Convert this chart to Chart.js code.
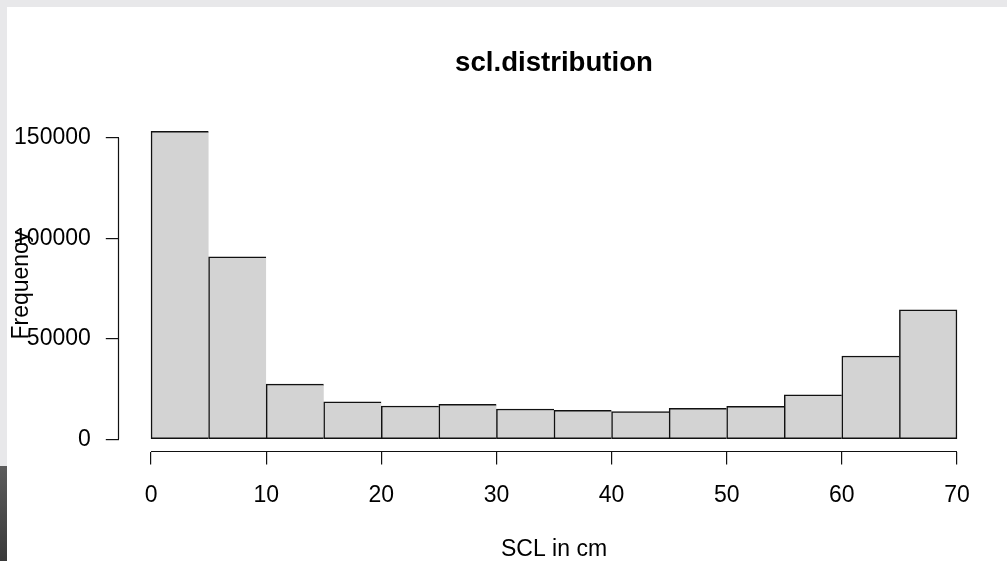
<!DOCTYPE html>
<html>
<head>
<meta charset="utf-8">
<title>scl.distribution</title>
<script src="https://cdn.jsdelivr.net/npm/chart.js@4/dist/chart.umd.min.js"></script>
<style>
    html, body { margin: 0; padding: 0; overflow: hidden; }
    body { width: 1007px; height: 561px; background: #e8e8ea; position: relative; }
    #edge { position: absolute; left: 0; top: 466px; width: 7px; height: 95px; background: linear-gradient(#5c5c5c, #3a3a3a); }
    #plot { position: absolute; left: 7px; top: 7px; width: 1000px; height: 554px; background: #ffffff; }
</style>
</head>
<body>
<div id="edge"></div>
<div id="plot"><canvas id="hist-chart" width="1000" height="554"></canvas></div>
<script>
// histogram bins (cm) and counts
const breaks = [0, 5, 10, 15, 20, 25, 30, 35, 40, 45, 50, 55, 60, 65, 70];
const counts = [153200, 90700, 27400, 18600, 16500, 17300, 15000, 14400, 13700, 15300, 16400, 22100, 41400, 64300];

// tick labels
const xTicks = [0, 10, 20, 30, 40, 50, 60, 70];
const yTicks = [0, 50000, 100000, 150000];

Chart.defaults.font.family = "'Liberation Sans', Arial, Helvetica, sans-serif";
Chart.defaults.color = '#000';

// R style plot region: data range plus 4% each side
const xRange = breaks[breaks.length - 1] - breaks[0];
const yTop = Math.max(...counts);

const lastBar = counts.length - 1;

// axis lines only from the first to the last tick, like R's axis()
const axisLines = {
    id: 'axisLines',
    afterDraw(chart) {
        const ctx = chart.ctx;
        const area = chart.chartArea;
        const align = p => Math.round(p - 0.5) + 0.5;
        const xs = chart.scales.x;
        const ys = chart.scales.y;
        ctx.save();
        ctx.strokeStyle = '#111';
        ctx.lineWidth = 1.2;
        ctx.beginPath();
        const yx = align(area.left);
        ctx.moveTo(yx, ys.getPixelForValue(yTicks[0]));
        ctx.lineTo(yx, ys.getPixelForValue(yTicks[yTicks.length - 1]));
        const xy = align(area.bottom);
        ctx.moveTo(xs.getPixelForValue(xTicks[0]), xy);
        ctx.lineTo(xs.getPixelForValue(xTicks[xTicks.length - 1]), xy);
        ctx.stroke();
        ctx.restore();
    }
};

const histChart = new Chart(document.getElementById('hist-chart'), {
    type: 'bar',
    data: {
        datasets: [{
            label: 'scl.distribution',
            data: counts.map((c, i) => ({ x: (breaks[i] + breaks[i + 1]) / 2, y: c })),
            backgroundColor: '#d3d3d3',
            borderColor: '#111',
            borderWidth: ctx => ({ top: 1.5, bottom: 1.5, left: 1.5, right: ctx.dataIndex === lastBar ? 1.5 : 0 }),
            borderSkipped: false,
            barPercentage: 1,
            categoryPercentage: 1
        }]
    },
    options: {
        responsive: false,
        animation: false,
        events: [],
        layout: {
            padding: { left: 3.5, right: 17.8, top: 0, bottom: 0 }
        },
        scales: {
            x: {
                type: 'linear',
                min: breaks[0] - 0.04 * xRange,
                max: breaks[breaks.length - 1] + 0.04 * xRange,
                offset: false,
                border: { display: false },
                grid: { offset: false, drawOnChartArea: false, tickLength: 13, color: '#111', lineWidth: 1.2 },
                ticks: {
                    font: { size: 23 },
                    padding: 17,
                    maxRotation: 0,
                    autoSkip: false,
                    callback: v => String(v)
                },
                afterBuildTicks: axis => { axis.ticks = xTicks.map(v => ({ value: v })); },
                afterFit: axis => { axis.height = 109.5; },
                title: {
                    display: true,
                    text: 'SCL in cm',
                    font: { size: 23, lineHeight: 1 },
                    padding: 0
                }
            },
            y: {
                min: -0.04 * yTop,
                max: 1.04 * yTop,
                border: { display: false },
                grid: { offset: false, drawOnChartArea: false, tickLength: 13, color: '#111', lineWidth: 1.2 },
                ticks: {
                    font: { size: 23 },
                    padding: 15,
                    callback: v => String(v)
                },
                afterBuildTicks: axis => { axis.ticks = yTicks.map(v => ({ value: v })); },
                afterFit: axis => { axis.width = 108.3; },
                title: {
                    display: true,
                    text: 'Frequency',
                    font: { size: 23, lineHeight: 1 },
                    padding: 0
                }
            }
        },
        plugins: {
            legend: { display: false },
            tooltip: { enabled: false },
            title: {
                display: true,
                text: 'scl.distribution',
                fullSize: false,
                font: { size: 27.6, weight: 'bold', lineHeight: 1.2 },
                padding: { top: 40.1, bottom: 38.7 }
            }
        }
    },
    plugins: [axisLines]
});
</script>
</body>
</html>
